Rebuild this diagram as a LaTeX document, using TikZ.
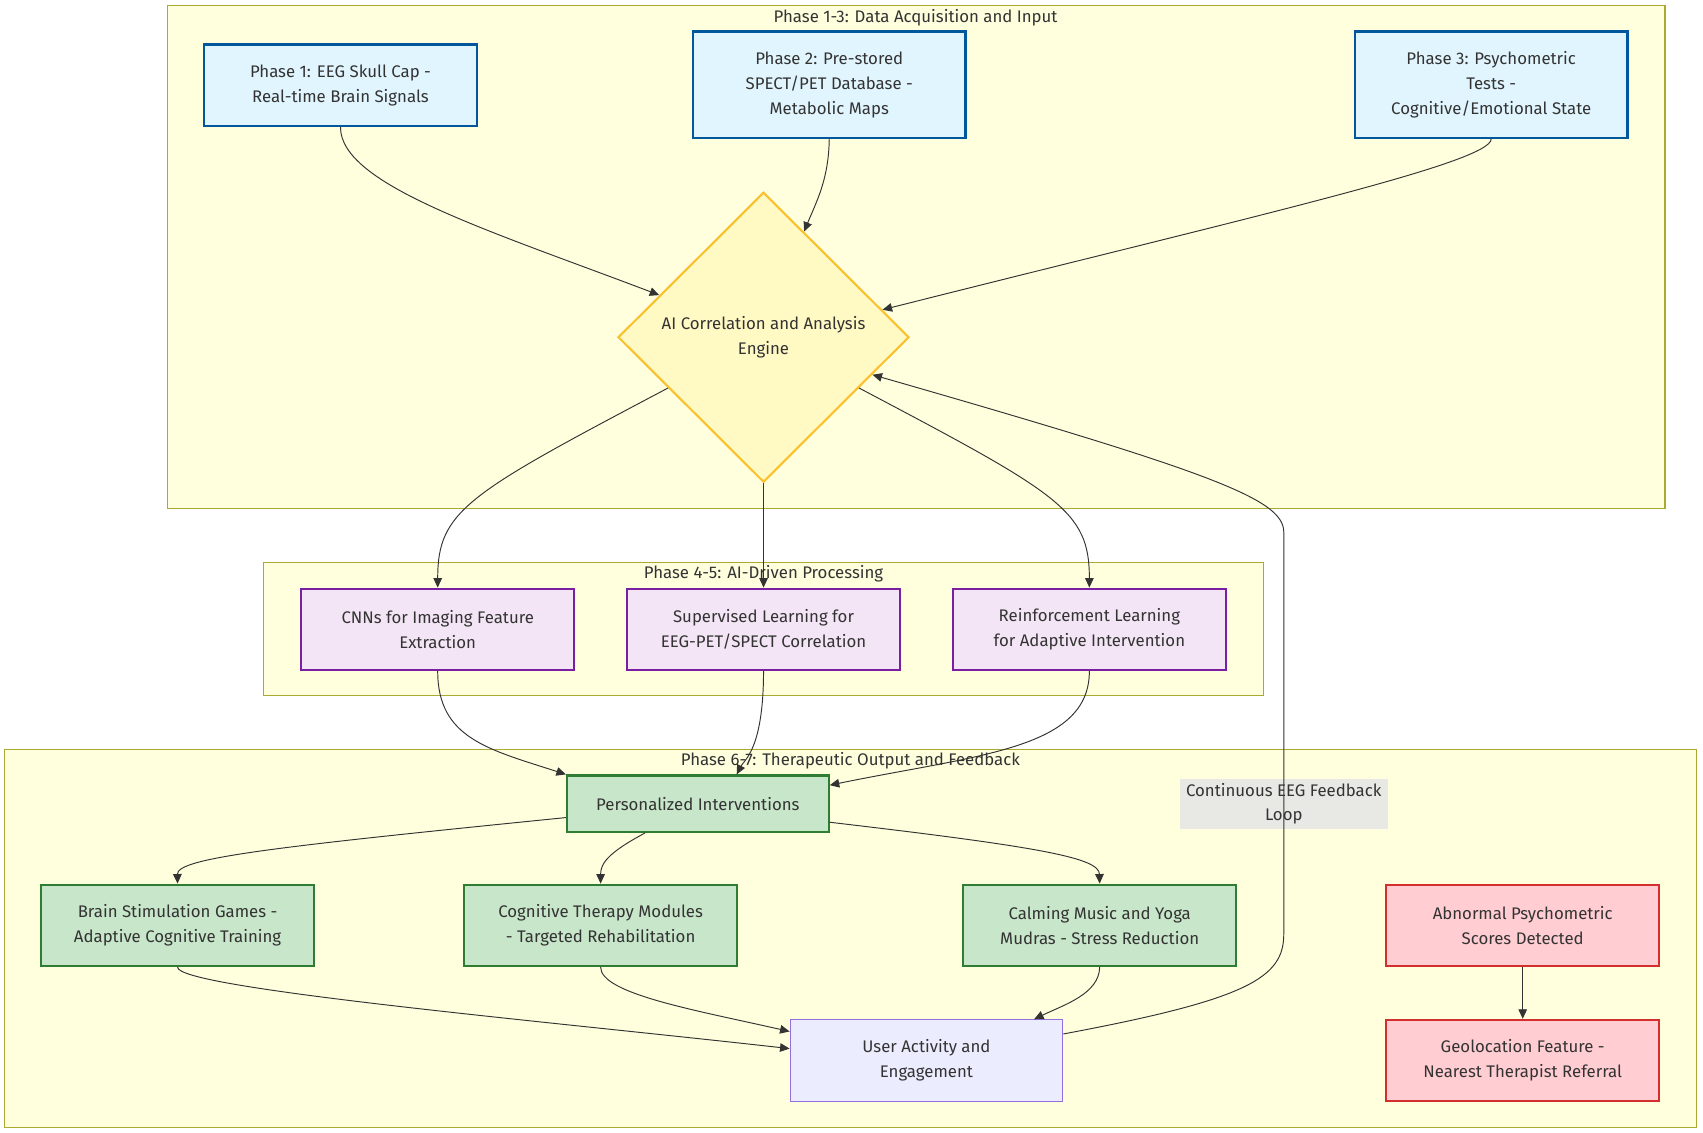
\documentclass[tikz,border=0pt]{standalone}
\usepackage{fontspec}
\setmainfont{Fira Sans}
\definecolor{ClusterFill}{HTML}{FFFFDE}
\definecolor{ClusterLine}{HTML}{AAAA33}
\definecolor{InputFill}{HTML}{E1F5FE}
\definecolor{InputLine}{HTML}{01579B}
\definecolor{EngineFill}{HTML}{FFF9C4}
\definecolor{EngineLine}{HTML}{FBC02D}
\definecolor{ModelFill}{HTML}{F3E5F5}
\definecolor{ModelLine}{HTML}{7B1FA2}
\definecolor{TherapyFill}{HTML}{C8E6C9}
\definecolor{TherapyLine}{HTML}{2E7D32}
\definecolor{UserFill}{HTML}{ECECFF}
\definecolor{UserLine}{HTML}{9370DB}
\definecolor{AlertFill}{HTML}{FFCDD2}
\definecolor{AlertLine}{HTML}{D32F2F}
\definecolor{EdgeLabelFill}{HTML}{E8E8E4}
\definecolor{TextDark}{HTML}{333333}
\usetikzlibrary{shapes.geometric,arrows.meta,positioning}
\newcommand{\diagfont}{\fontsize{8.8}{13}\selectfont}
\tikzset{
    % Subgraph frames
    cluster/.style={
        draw=ClusterLine,
        fill=ClusterFill,
        line width=0.6pt
    },
    cluster title/.style={
        text=TextDark,
        font=\diagfont,
        inner sep=0pt
    },
    % Sharp-cornered boxes
    process/.style={
        rectangle,
        line width=1.1pt,
        text=TextDark,
        minimum width=5.02cm,
        minimum height=1.5cm,
        align=center,
        font=\diagfont
    },
    process input/.style={
        process,
        fill=InputFill,
        draw=InputLine
    },
    process model/.style={
        process,
        fill=ModelFill,
        draw=ModelLine
    },
    process therapy/.style={
        process,
        fill=TherapyFill,
        draw=TherapyLine
    },
    process user/.style={
        process,
        fill=UserFill,
        draw=UserLine,
        line width=0.6pt
    },
    process alert/.style={
        process,
        fill=AlertFill,
        draw=AlertLine
    },
    decision/.style={
        diamond,
        aspect=1,
        line width=1.1pt,
        draw=EngineLine,
        fill=EngineFill,
        text=TextDark,
        minimum width=5.36cm,
        minimum height=5.34cm,
        align=center,
        font=\diagfont
    },
    edge label/.style={
        rectangle,
        fill=EdgeLabelFill,
        text=TextDark,
        minimum width=3.84cm,
        minimum height=0.92cm,
        inner sep=1pt,
        align=center,
        font=\diagfont
    },
    arrow/.style={
        -{Triangle[length=5pt,width=4.5pt]},
        line width=0.5pt,
        color=TextDark
    }
}

\begin{document}
\begin{tikzpicture}[x=0.02cm, y=-0.02cm]
    \useasboundingbox (0,0) rectangle (1568,1043);

    % frames
    \draw[cluster] (154,5) rectangle (1533,468);
    \draw[cluster] (243,518) rectangle (1163,640);
    \draw[cluster] (4,690) rectangle (1562,1038);
    \node[cluster title] (acqtitle) at (843,16) {Phase 1-3: Data Acquisition and Input};
    \node[cluster title] (proctitle) at (703,528) {Phase 4-5: AI-Driven Processing};
    \node[cluster title] (outtitle) at (783,700) {Phase 6-7: Therapeutic Output and Feedback};

    % phase 1-3
    \node[process input] (eeg) at (313.5,78.5) {Phase 1: EEG Skull Cap -\\Real-time Brain Signals};
    \node[process input, minimum height=1.96cm] (spect) at (763.5,78) {Phase 2: Pre-stored\\SPECT/PET Database -\\Metabolic Maps};
    \node[process input, minimum height=1.96cm] (psych) at (1373,78) {Phase 3: Psychometric\\Tests -\\Cognitive/Emotional State};
    \node[decision] (engine) at (703,310.5) {AI Correlation and Analysis\\Engine};

    % phase 4-5
    \node[process model] (cnn) at (403,579.5) {CNNs for Imaging Feature\\Extraction};
    \node[process model] (supervised) at (703,579.5) {Supervised Learning for\\EEG-PET/SPECT Correlation};
    \node[process model] (reinforce) at (1003,579.5) {Reinforcement Learning\\for Adaptive Intervention};

    % phase 6-7
    \node[process therapy, minimum width=4.82cm, minimum height=1.04cm] (personal) at (642.5,740) {Personalized Interventions};
    \node[process therapy] (games) at (163.5,852) {Brain Stimulation Games -\\Adaptive Cognitive Training};
    \node[process therapy] (modules) at (553,852) {Cognitive Therapy Modules\\- Targeted Rehabilitation};
    \node[process therapy] (calming) at (1012.5,852) {Calming Music and Yoga\\Mudras - Stress Reduction};
    \node[process user] (activity) at (853,976.5) {User Activity and\\Engagement};
    \node[process alert] (abnormal) at (1402,852) {Abnormal Psychometric\\Scores Detected};
    \node[process alert] (geo) at (1402,976.5) {Geolocation Feature -\\Nearest Therapist Referral};
    \node[edge label] (loop) at (1182,740) {Continuous EEG Feedback\\Loop};

    \draw[arrow] (eeg.south) .. controls (313,170) and (450,212) .. (engine.158);
    \draw[arrow] (spect.south) .. controls (763,165) and (752,185) .. (engine.69);
    \draw[arrow] (psych.south) .. controls (1373,150) and (1150,200) .. (engine.13);
    \draw[arrow] (engine.208) .. controls (430,455) and (403,470) .. (cnn.north);
    \draw[arrow] (engine.south) -- (supervised.north);
    \draw[arrow] (engine.332) .. controls (976,455) and (1003,470) .. (reinforce.north);
    \draw[arrow] (cnn.south) .. controls (403,680) and (450,690) .. (personal.north west);
    \draw[arrow] (supervised.south) .. controls (703,690) and (685,700) .. (personal.37);
    \draw[arrow] (reinforce.south) .. controls (1003,690) and (900,695) .. (personal.8);
    \draw[arrow] (personal.186) .. controls (250,780) and (163,790) .. (games.north);
    \draw[arrow] (personal.209) .. controls (560,785) and (553,795) .. (modules.north);
    \draw[arrow] (personal.352) .. controls (960,780) and (1012,790) .. (calming.north);
    \draw[arrow] (games.south) .. controls (163,910) and (500,940) .. (activity.175);
    \draw[arrow] (modules.south) .. controls (553,915) and (640,930) .. (activity.168);
    \draw[arrow] (calming.south) .. controls (1012,915) and (980,925) .. (activity.21);
    \draw[arrow] (activity.11) .. controls (1150,920) and (1182,900) .. (1182,860)
        -- (loop.south) -- (loop.north) -- (1182,490)
        .. controls (1182,460) and (1120,436) .. (engine.341);
    \draw[arrow] (abnormal.south) -- (geo.north);
\end{tikzpicture}
\end{document}
